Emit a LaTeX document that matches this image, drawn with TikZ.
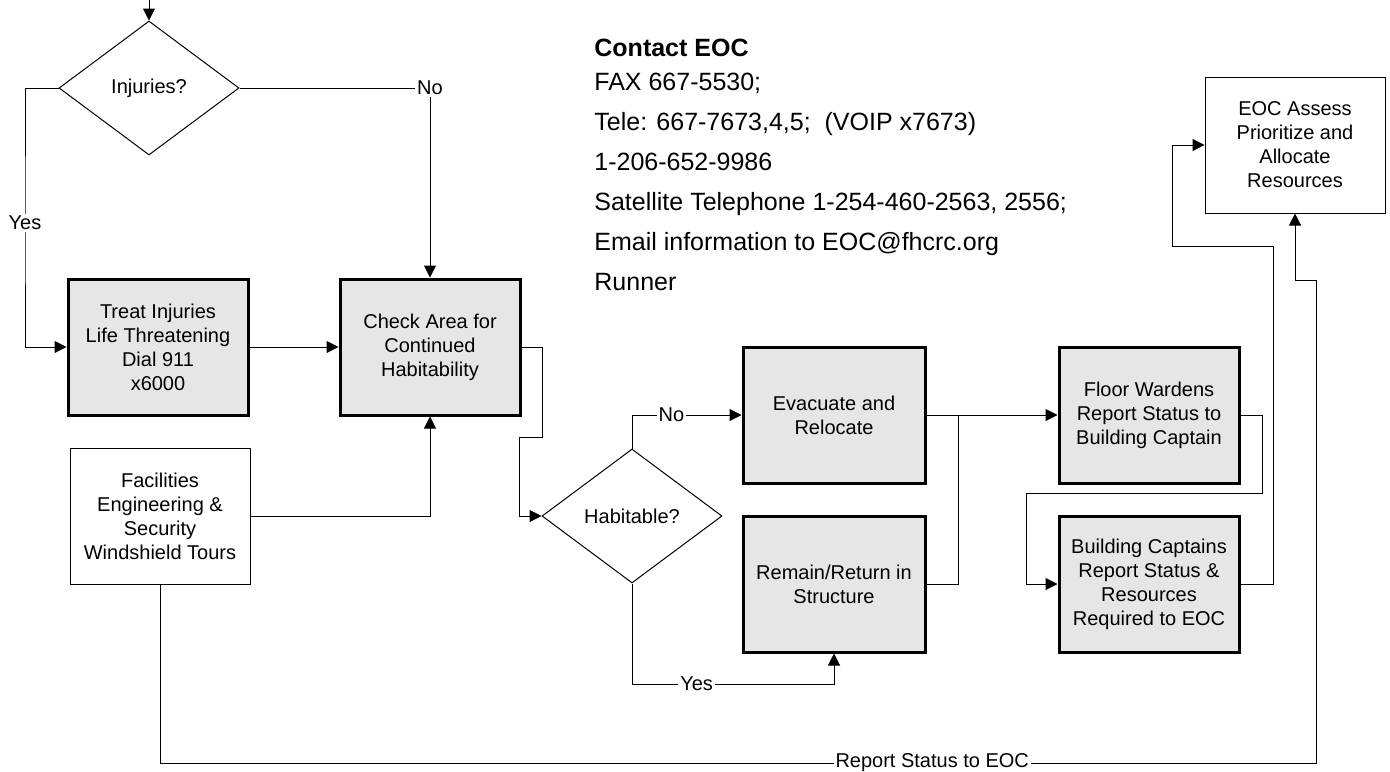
\documentclass[tikz,border=0pt]{standalone}
\usepackage{fontspec}
\setmainfont{Liberation Sans}
\usepackage{xcolor}
\usepackage{tikz}
\usetikzlibrary{shapes.geometric,arrows.meta,positioning}
\definecolor{boxgray}{RGB}{230,230,230}

\begin{document}
\begin{tikzpicture}[x=0.5pt, y=-0.5pt,
    >={Triangle[length=6pt,width=6pt]},
    line/.style={line width=0.5pt},
    action/.style={draw, line width=1.5pt, fill=boxgray, minimum width=90pt, minimum height=68pt, align=center, inner sep=2pt, font=\fontsize{10}{12}\selectfont},
    plainbox/.style={draw, line width=0.5pt, fill=white, minimum width=90pt, minimum height=68pt, align=center, inner sep=2pt, font=\fontsize{10}{12}\selectfont},
    decision/.style={draw, diamond, line width=0.5pt, minimum width=90pt, minimum height=67pt, inner sep=0pt, font=\fontsize{10}{12}\selectfont},
    lbl/.style={fill=white, inner sep=1pt, font=\fontsize{10}{12}\selectfont},
    contact/.style={anchor=north west, inner sep=0pt, align=left, font=\fontsize{12.5}{20}\selectfont}]
    \path [use as bounding box, fill=white] (0,0) rectangle (1390,771);

    % Injuries
    \coordinate (entry) at (149,0);
    \node [decision] (injuries) at (149,88) {Injuries?};
    \node [action] (treat) at (158,347) {Treat Injuries\\Life Threatening\\Dial 911\\x6000};
    \node [action] (check) at (430,347) {Check Area for\\Continued\\Habitability};
    \node [plainbox] (facil) at (160,516) {Facilities\\Engineering \&\\Security\\Windshield Tours};

    \draw [line, ->] (entry) -- (injuries.north);
    \draw [line, ->] (injuries.west) -| (25,223) node [lbl] {Yes} |- (treat.west);
    \draw [line, ->] (injuries.east) -- (430,88) node [lbl] {No} -- (check.north);
    \draw [line, ->] (treat) -- (check);
    \draw [line, ->] (facil.east) -| (check.south);

    % Habitability
    \node [decision] (habit) at (632,516) {Habitable?};
    \node [action, minimum width=91pt] (evac) at (834,415) {Evacuate and\\Relocate};
    \node [action, minimum width=91pt] (remain) at (834,584) {Remain/Return in\\Structure};
    \coordinate (yesbend) at (632,684);
    \coordinate (join) at (958,415);

    \draw [line, ->] (check.east) -| (542,437) -| (519,516) -- (habit.west);
    \draw [line, ->] (habit.north) |- node [lbl, pos=0.68] {No} (evac.west);
    \draw [line, ->] (habit.south) -- (yesbend) -| node [lbl, pos=0.16] {Yes} (remain.south);

    % Reporting
    \node [action] (floor) at (1149,415) {Floor Wardens\\Report Status to\\Building Captain};
    \node [action] (bldg) at (1149,584) {Building Captains\\Report Status \&\\Resources\\Required to EOC};
    \node [plainbox] (eoc) at (1295,145) {EOC Assess\\Prioritize and\\Allocate\\Resources};

    \draw [line, ->] (evac) -- (floor);
    \draw [line] (remain.east) -| (join);
    \draw [line, ->] (floor.east) -| (1262,493) -| (1026,584) -- (bldg.west);
    \draw [line, ->] (bldg.east) -| (1273,246) -| (1172,145) -- (eoc.west);
    \draw [line, ->] (facil.south) -- (160,763) -- node [lbl, pos=0.668] {Report Status to EOC} (1316,763) -- (1316,280) -- (1295,280) -- (eoc.south);

    % Contact details
    \node [contact] (eocinfo) at (594,39) {\textbf{Contact EOC}\\[-3pt]
        FAX 667-5530;\\
        Tele: 667-7673,4,5;\ \ (VOIP x7673)\\
        1-206-652-9986\\
        Satellite Telephone 1-254-460-2563, 2556;\\
        Email information to EOC@fhcrc.org\\
        Runner};
\end{tikzpicture}
\end{document}
